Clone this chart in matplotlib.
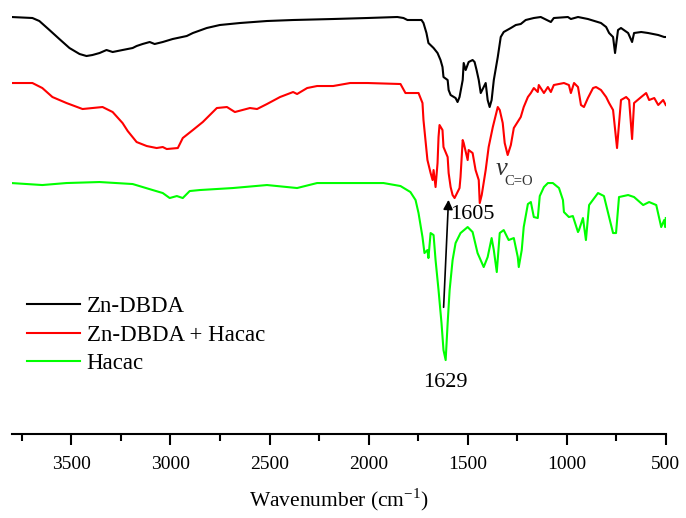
import matplotlib
matplotlib.use('Agg')
import matplotlib.pyplot as plt
from matplotlib.ticker import MultipleLocator

plt.rcParams['font.family'] = 'Liberation Serif'
plt.rcParams['mathtext.fontset'] = 'stix'

# Zn-DBDA (black)
wn_black = [3804, 3697, 3662, 3611, 3561, 3510, 3459, 3424, 3394, 3358, 3323, 3292, 3242, 3191,
            3171, 3141, 3105, 3080, 3039, 2989, 2918, 2887, 2817, 2751, 2649, 2513, 2381, 2179,
            2006, 1855, 1824, 1804, 1733, 1723, 1708, 1698, 1672, 1652, 1637, 1627, 1622, 1601,
            1596, 1586, 1561, 1551, 1541, 1525, 1520, 1510, 1495, 1475, 1465, 1455, 1444, 1434,
            1419, 1409, 1399, 1389, 1379, 1368, 1348, 1333, 1318, 1282, 1257, 1232, 1207, 1166,
            1131, 1080, 1065, 994, 979, 943, 893, 827, 801, 786, 766, 756, 741, 726, 690, 670,
            660, 624, 589, 538, 508, 500]
t_black = [423, 422, 419, 410, 401, 392, 386, 384, 385, 387, 390, 388, 390, 392,
           394, 396, 398, 396, 398, 401, 404, 407, 412, 415, 417, 419, 420, 421,
           422, 423, 422, 420, 420, 417, 407, 397, 392, 387, 380, 373, 363, 360,
           350, 345, 342, 338, 343, 360, 377, 370, 378, 380, 378, 370, 360, 347,
           353, 357, 340, 333, 340, 360, 383, 403, 408, 412, 415, 416, 420, 422,
           423, 418, 422, 423, 421, 423, 421, 417, 413, 407, 403, 387, 410, 412, 407, 398,
           407, 408, 407, 405, 403, 403]

# Zn-DBDA + Hacac (red)
wn_red = [3804, 3697, 3647, 3596, 3525, 3444, 3394, 3343, 3292, 3242, 3216, 3171, 3120, 3070,
          3039, 3019, 2963, 2938, 2887, 2837, 2766, 2715, 2675, 2599, 2563, 2513, 2447, 2381,
          2361, 2310, 2260, 2179, 2093, 2006, 1839, 1814, 1748, 1728, 1723, 1713, 1703, 1687,
          1677, 1672, 1662, 1652, 1647, 1642, 1627, 1622, 1601, 1596, 1586, 1576, 1566, 1551,
          1541, 1536, 1525, 1520, 1500, 1495, 1475, 1460, 1444, 1439, 1429, 1409, 1394, 1373,
          1348, 1338, 1323, 1313, 1298, 1282, 1267, 1232, 1217, 1196, 1181, 1166, 1146, 1141,
          1115, 1095, 1080, 1065, 1014, 989, 979, 963, 943, 928, 913, 893, 867, 852, 827, 801,
          786, 766, 746, 726, 700, 685, 670, 660, 624, 599, 584, 558, 538, 513, 500]
t_red = [357, 357, 352, 343, 337, 331, 332, 333, 328, 317, 309, 298, 294, 292,
         293, 291, 292, 302, 310, 318, 332, 333, 328, 332, 331, 336, 343, 348,
         346, 352, 354, 354, 357, 357, 356, 347, 347, 337, 320, 300, 280, 267,
         260, 270, 253, 277, 303, 315, 310, 293, 283, 267, 253, 245, 242, 248,
         252, 263, 300, 297, 280, 290, 287, 270, 260, 237, 245, 270, 293, 313,
         333, 330, 317, 297, 285, 295, 312, 323, 333, 343, 347, 352, 348, 355,
         347, 353, 348, 355, 357, 355, 347, 357, 353, 335, 333, 342, 352, 353, 350, 343,
         337, 330, 292, 340, 343, 340, 301, 337, 343, 347, 340, 342, 335, 340, 335]

# Hacac (green)
wn_green = [3804, 3647, 3525, 3358, 3191, 3090, 3039, 3004, 2968, 2938, 2903, 2852, 2685, 2513,
            2361, 2260, 2093, 1925, 1839, 1789, 1763, 1748, 1728, 1718, 1703, 1698, 1687, 1672,
            1662, 1647, 1632, 1622, 1611, 1601, 1591, 1576, 1561, 1536, 1500, 1475, 1450, 1419,
            1399, 1379, 1368, 1353, 1338, 1318, 1293, 1267, 1247, 1242, 1227, 1217, 1196, 1181,
            1166, 1146, 1136, 1115, 1095, 1070, 1039, 1019, 1014, 989, 969, 943, 938, 918, 903,
            887, 842, 812, 786, 766, 751, 736, 690, 660, 614, 584, 548, 523, 508, 503, 500]
t_green = [257, 255, 257, 258, 256, 250, 247, 242, 244, 242, 249, 250, 252, 255,
           252, 257, 257, 257, 254, 248, 240, 227, 203, 187, 190, 182, 207, 205,
           180, 150, 117, 90, 80, 117, 150, 180, 197, 207, 213, 208, 187, 173,
           183, 202, 190, 168, 207, 210, 200, 202, 183, 173, 190, 213, 236, 238,
           223, 222, 244, 253, 257, 257, 252, 240, 228, 223, 224, 208, 210, 222, 200,
           235, 247, 244, 223, 207, 207, 243, 245, 243, 235, 238, 235, 213, 220, 213, 222]

fig = plt.figure(figsize=(6.86, 5.18), dpi=100)
ax = fig.add_axes([0.0175, 0.162, 0.953, 0.838])

ax.plot(wn_black, t_black, color='black', lw=1.5, label='Zn-DBDA')
ax.plot(wn_red, t_red, color='#ff0000', lw=1.5, label='Zn-DBDA + Hacac')
ax.plot(wn_green, t_green, color='#00ff00', lw=1.5, label='Hacac')

ax.set_xlim(3800, 500)
ax.set_ylim(6, 440)
ax.xaxis.set_major_locator(MultipleLocator(500))
ax.xaxis.set_minor_locator(MultipleLocator(250))
ax.set_yticks([])
for s in ['top', 'left', 'right']:
    ax.spines[s].set_visible(False)
ax.spines['bottom'].set_linewidth(1.5)
ax.tick_params(axis='x', which='major', direction='out', length=8, width=1.5, labelsize=14, pad=8)
ax.tick_params(axis='x', which='minor', direction='out', length=5, width=1.5)
ax.set_xlabel(r'Wavenumber (cm$^{\mathregular{-1}}$)', fontsize=15.5, labelpad=10)

ax.annotate('', xy=(1596, 243), xytext=(1622, 130),
            arrowprops=dict(arrowstyle='-|>', color='black', lw=1.2, mutation_scale=14))
ax.text(1475, 226, '1605', fontsize=16, ha='center', va='center')
ax.text(1611, 58, '1629', fontsize=16, ha='center', va='center')
ax.text(1330, 271, 'v', fontsize=19, style='italic', ha='center', va='center', color='#333333')
ax.text(1240, 259, 'C=O', fontsize=10.5, ha='center', va='center', color='#333333')

ax.legend(loc='upper left', bbox_to_anchor=(27 / 686, 1 - 296 / 518), bbox_transform=fig.transFigure,
          frameon=False, fontsize=16.5, borderpad=0, borderaxespad=0,
          handlelength=2.3, handletextpad=0.3, labelspacing=0.33)

fig.savefig('out.png', dpi=100)
